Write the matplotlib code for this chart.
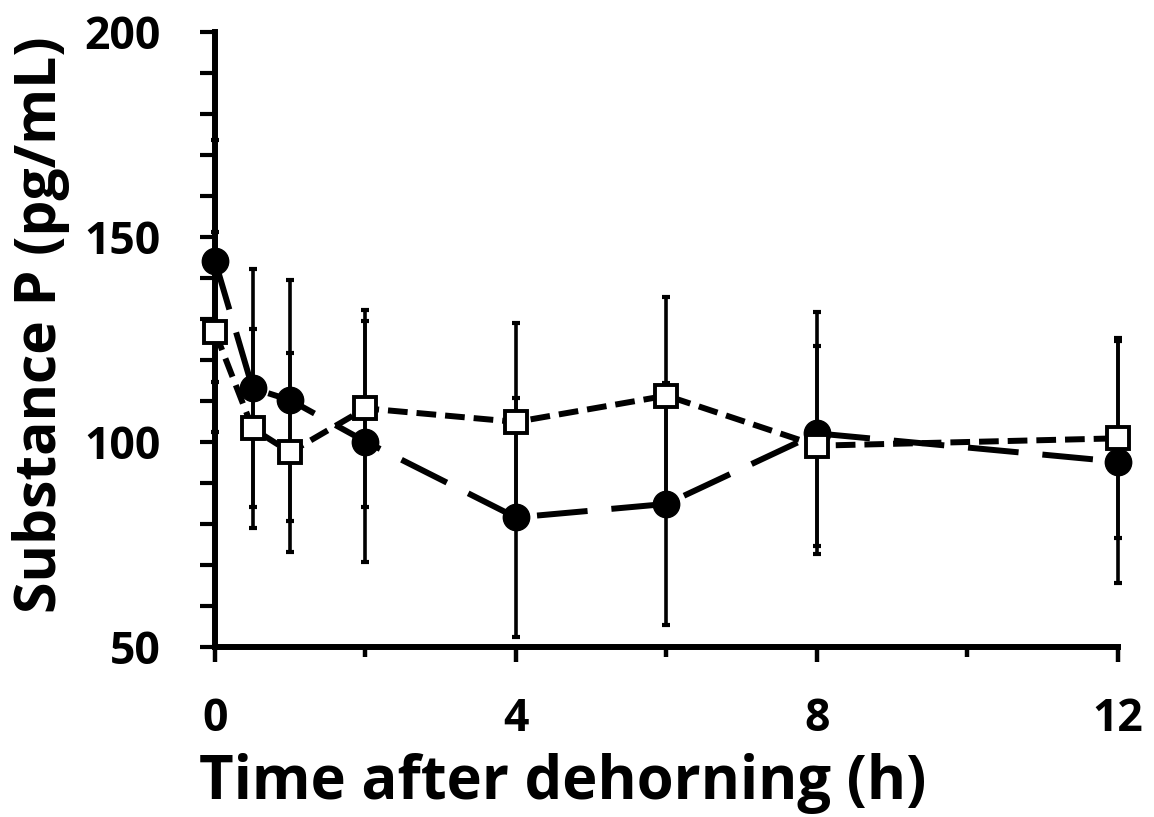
import matplotlib
matplotlib.use("Agg")
import matplotlib.pyplot as plt
from matplotlib.ticker import MultipleLocator, FixedLocator

# Data
time_h = [0, 0.5, 1, 2, 4, 6, 8, 12]
circle_mean = [144.2, 113.1, 110.2, 100.1, 81.6, 84.9, 102.1, 95.2]
circle_sd = [29.5, 29.0, 29.4, 29.3, 29.2, 29.5, 29.5, 29.5]
square_mean = [126.9, 103.3, 97.5, 108.2, 104.9, 111.3, 99.1, 100.9]
square_sd = [24.4, 24.2, 24.3, 24.0, 24.1, 24.1, 24.4, 24.4]
x_major = [0, 4, 8, 12]
x_minor = [2, 6, 10]
y_major = [50, 100, 150, 200]

plt.rcParams['font.family'] = ['Open Sans', 'DejaVu Sans']
plt.rcParams['font.weight'] = 'bold'

fig = plt.figure(figsize=(11.54, 8.17), dpi=100)
ax = fig.add_axes([0.1863, 0.2081, 0.7825, 0.7527])

lw = 4.3
# circles, long dash
ax.errorbar(time_h, circle_mean, yerr=circle_sd, fmt='none', ecolor='black',
            elinewidth=2.6, capsize=2.8, capthick=3, zorder=3, clip_on=False)
ax.plot(time_h, circle_mean, color='black', lw=lw, dashes=(8.5, 4.0),
        marker='o', markersize=19, markerfacecolor='black', markeredgecolor='black',
        zorder=4, clip_on=False)
# squares, short dash
ax.errorbar(time_h, square_mean, yerr=square_sd, fmt='none', ecolor='black',
            elinewidth=2.6, capsize=2.8, capthick=3, zorder=3, clip_on=False)
ax.plot(time_h, square_mean, color='black', lw=lw, dashes=(3.3, 1.5),
        marker='s', markersize=16, markerfacecolor='white', markeredgecolor='black',
        markeredgewidth=2.8, zorder=5, clip_on=False)

ax.set_xlim(0, 12)
ax.set_ylim(50, 200)
for s in ['top', 'right']:
    ax.spines[s].set_visible(False)
for s in ['left', 'bottom']:
    ax.spines[s].set_linewidth(4.3)
    ax.spines[s].set_capstyle('projecting')

ax.xaxis.set_major_locator(FixedLocator(x_major))
ax.xaxis.set_minor_locator(FixedLocator(x_minor))
ax.yaxis.set_major_locator(FixedLocator(y_major))
ax.yaxis.set_minor_locator(MultipleLocator(10))
ax.set_xticklabels([str(v) for v in x_major])
ax.set_yticklabels([str(v) for v in y_major])

ax.tick_params(axis='x', which='major', direction='out', length=11, width=3.2,
               labelsize=32, pad=25)
ax.tick_params(axis='x', which='minor', direction='out', length=7, width=3.2)
ax.tick_params(axis='y', which='both', direction='out', length=11, width=3.0,
               labelsize=32, pad=28)
for lab in ax.get_xticklabels() + ax.get_yticklabels():
    lab.set_fontweight('bold')

ax.set_xlabel('Time after dehorning (h)', fontsize=43, fontweight='bold', va='baseline')
ax.xaxis.set_label_coords(0.385, -0.248)
ax.set_ylabel('Substance P (pg/mL)', fontsize=41, fontweight='bold')
ax.yaxis.set_label_coords(-0.1606, 0.524)

fig.savefig('out.png', dpi=100)
